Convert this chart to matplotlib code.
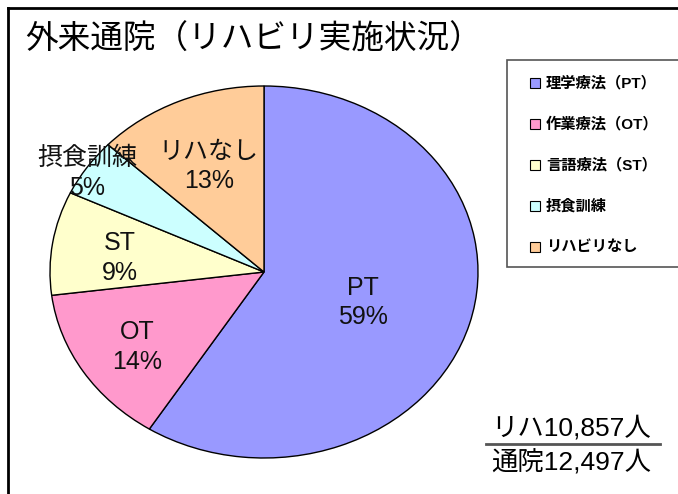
import numpy as np
import matplotlib
matplotlib.use('Agg')
import matplotlib.pyplot as plt
from matplotlib.patches import Rectangle
from matplotlib.lines import Line2D

plt.rcParams['font.family'] = ['Liberation Sans', 'Noto Sans CJK JP', 'DejaVu Sans']

# data
legend_names = ['理学療法（PT）', '作業療法（OT）', '言語療法（ST）', '摂食訓練', 'リハビリなし']
slice_names = ['PT', 'OT', 'ST', '摂食訓練', 'リハなし']
shares = [59, 14, 9, 5, 13]
colors = ['#9999FF', '#FF99CC', '#FFFFCC', '#CCFFFF', '#FFCC99']
label_dist = [0.48, 0.7, 0.68, 1.0, 0.65]
title = '外来通院（リハビリ実施状況）'
rehab_count = 'リハ10,857人'
visit_count = '通院12,497人'

W, H = 678, 494
fig = plt.figure(figsize=(W / 100, H / 100), dpi=100)

# pie is slightly squashed like the original, so no equal aspect
cx, cy, rx, ry = 264, 272, 214, 186
ax = fig.add_axes([(cx - rx) / W, (H - cy - ry) / H, 2 * rx / W, 2 * ry / H])
wedges, _ = ax.pie(shares, colors=colors, startangle=90, counterclock=False,
                   wedgeprops=dict(edgecolor='black', linewidth=1.0))
ax.set_xlim(-1, 1)
ax.set_ylim(-1, 1)
ax.set_aspect('auto')
ax.axis('off')

for w, name, pct, d in zip(wedges, slice_names, shares, label_dist):
    mid = np.deg2rad((w.theta1 + w.theta2) / 2)
    ax.text(d * np.cos(mid), d * np.sin(mid) - 0.03, f'{name}\n{pct}%',
            ha='center', va='center', fontsize=18, linespacing=1.3, color='#111111')

# frame (only top and left visible)
fig.add_artist(Line2D([8 / W, 1.0], [1 - 8 / H, 1 - 8 / H], color='black', lw=2))
fig.add_artist(Line2D([8 / W, 8 / W], [0, 1 - 8 / H], color='black', lw=2))

fig.text(25 / W, 1 - 40 / H, title, fontsize=23.5, ha='left', va='center',
         family=['Noto Sans CJK JP'])

# legend box
fig.add_artist(Rectangle((507 / W, 1 - 267 / H), 200 / W, 207 / H,
                         transform=fig.transFigure, facecolor='white',
                         edgecolor='#555555', lw=1.2))
for i, (name, c) in enumerate(zip(legend_names, colors)):
    y = 83 + i * 41
    fig.add_artist(Rectangle((530 / W, 1 - (y + 5) / H), 10 / W, 10 / H,
                             transform=fig.transFigure, facecolor=c,
                             edgecolor='black', lw=0.8))
    fig.text(546 / W, 1 - y / H, name, fontsize=11, fontweight='bold',
             ha='left', va='center')

# counts at bottom right
fig.text(571 / W, 1 - 428 / H, rehab_count, fontsize=19, ha='center', va='center')
fig.add_artist(Line2D([486 / W, 660 / W], [1 - 444 / H, 1 - 444 / H], color='#555555', lw=2))
fig.text(571 / W, 1 - 463 / H, visit_count, fontsize=19, ha='center', va='center')

fig.savefig('out.png', dpi=100)
